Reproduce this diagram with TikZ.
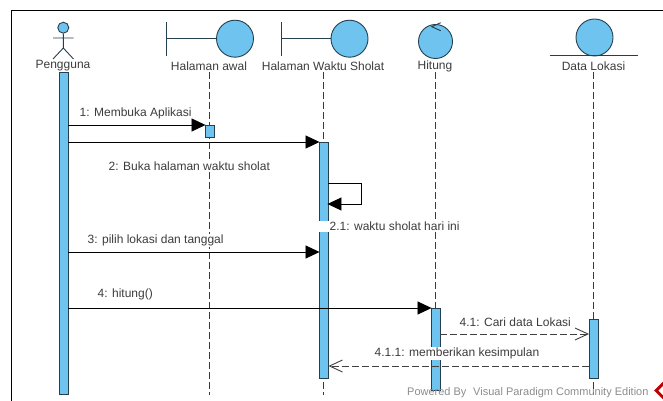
\documentclass[tikz,border=0pt]{standalone}
\usepackage{xcolor}
\usepackage{fontspec}
\setmainfont{Liberation Sans}
\usetikzlibrary{arrows.meta,positioning,shapes.geometric}
\definecolor{vpblue}{HTML}{6EC4EE}
\definecolor{vpedge}{HTML}{24404F}
\definecolor{vptext}{HTML}{3C3C3C}
\begin{document}
\begin{tikzpicture}[x=1pt,y=-1pt,font=\fontsize{12}{14}\selectfont,
lbl/.style={text=vptext,inner sep=0.5pt},
life/.style={draw=vpedge,dash pattern=on 7pt off 3pt,line width=0.8pt},
akt/.style={draw=vpedge,fill=vpblue,line width=0.9pt,minimum width=9pt,inner sep=0pt,anchor=north},
icon/.style={draw=vpedge,fill=vpblue,line width=0.9pt},
stem/.style={draw=vpedge,line width=0.9pt},
call/.style={draw=black,line width=0.8pt,shorten >=-1pt,-{Triangle[length=14pt,width=13pt]}},
back/.style={draw=black!75,line width=0.9pt,dash pattern=on 7pt off 3pt,-{Straight Barb[length=13pt,width=12pt,line width=0.9pt]}}]
\useasboundingbox (0,0) rectangle (663,401);
\draw[line width=0.9pt] (11.5,401) -- (11.5,10.5) -- (663,10.5);
% lifelines
\node[lbl] (pengguna) at (63,66) {Pengguna};
\node[lbl] (awal) at (209,66) {Halaman awal};
\node[lbl] (waktu) at (323,66) {Halaman Waktu Sholat};
\node[lbl] (hitung) at (435,66) {Hitung};
\node[lbl] (lokasi) at (593.5,66) {Data Lokasi};
\coordinate (awalEnd) at (209,395);
\coordinate (waktuEnd) at (323.5,395);
\coordinate (hitungEnd) at (435.5,390);
\coordinate (lokasiEnd) at (593.5,395);
\draw[life] (209,72) -- (awalEnd);
\draw[life] (323.5,72) -- (waktuEnd);
\draw[life] (435.5,72) -- (hitungEnd);
\draw[life] (593.5,72) -- (lokasiEnd);
% actor
\node[icon,circle,minimum size=11pt,inner sep=0pt] (kepala) at (63.3,27.7) {};
\coordinate (pinggul) at (63.3,48);
\draw[stem] (kepala) -- (pinggul) (53,38) -- (73.5,38) (53,59) -- (pinggul) -- (73.5,59);
% boundary, control and entity icons
\node[icon,circle,minimum size=37pt,inner sep=0pt] (bolaAwal) at (235,38.7) {};
\draw[stem] (166,22) -- (166,56) (166,38.7) -- (bolaAwal);
\node[icon,circle,minimum size=37pt,inner sep=0pt] (bolaWaktu) at (349.5,38.7) {};
\draw[stem] (281,22) -- (281,56) (281,38.7) -- (bolaWaktu);
\node[icon,circle,minimum size=34pt,inner sep=0pt] (bolaHitung) at (435.5,41.5) {};
\draw[stem] (440.7,22.7) -- (431.7,26.7) -- (440.7,30.7);
\node[icon,circle,minimum size=37pt,inner sep=0pt] (bolaLokasi) at (594.5,37.5) {};
\draw[stem] (550,55.7) -- (638,55.7);
% activations
\node[akt,minimum height=322pt] (aktPengguna) at (63.5,72) {};
\node[akt,minimum height=12pt] (aktAwal) at (209.5,125) {};
\node[akt,minimum height=236pt] (aktWaktu) at (323.5,142) {};
\node[akt,minimum height=82pt] (aktHitung) at (435.5,308) {};
\node[akt,minimum height=59pt] (aktLokasi) at (594,319) {};
% messages
\node[lbl,anchor=west] (m1) at (79,113) {1: Membuka Aplikasi};
\draw[call] (aktPengguna.east |- aktAwal.north) -- (aktAwal.north west);
\node[lbl,anchor=west,fill=white] (m2) at (108,166) {2: Buka halaman waktu sholat};
\draw[call] (aktPengguna.east |- aktWaktu.north) -- (aktWaktu.north west);
\coordinate (putarA) at (361,183);
\coordinate (putarB) at (361,204);
\draw[call] (aktWaktu.east |- putarA) -- (putarA) -- (putarB) -- (aktWaktu.east |- putarB);
\node[lbl,anchor=west,fill=white,inner ysep=1.5pt] (m21) at (319,226.5) {\hspace{10pt}2.1: waktu sholat hari ini};
\node[lbl,anchor=west,fill=white] (m3) at (87,240.5) {3: pilih lokasi dan tanggal};
\draw[call] (aktPengguna.east |- 0,252) -- (aktWaktu.west |- 0,252);
\node[lbl,anchor=west] (m4) at (97,294) {4: hitung()};
\draw[call] (aktPengguna.east |- aktHitung.north) -- (aktHitung.north west);
\node[lbl,anchor=west] (m41) at (459,322) {4.1: Cari data Lokasi};
\draw[back] (aktHitung.east |- 0,334) -- (aktLokasi.west |- 0,334);
\node[lbl,anchor=west,fill=white] (m411) at (374,353.5) {4.1.1: memberikan kesimpulan};
\draw[back] (aktLokasi.west |- 0,366) -- (aktWaktu.east |- 0,366);
% watermark
\node[anchor=west,text=black!45,inner sep=0pt,font=\fontsize{11}{13}\selectfont] (tanda) at (407,393) {Powered By \,\,Visual Paradigm Community Edition};
\node[draw=red!75!black,line width=3pt,fill=white,diamond,minimum size=17pt,inner sep=0pt] (logo) at (664,390.5) {};
\end{tikzpicture}
\end{document}
